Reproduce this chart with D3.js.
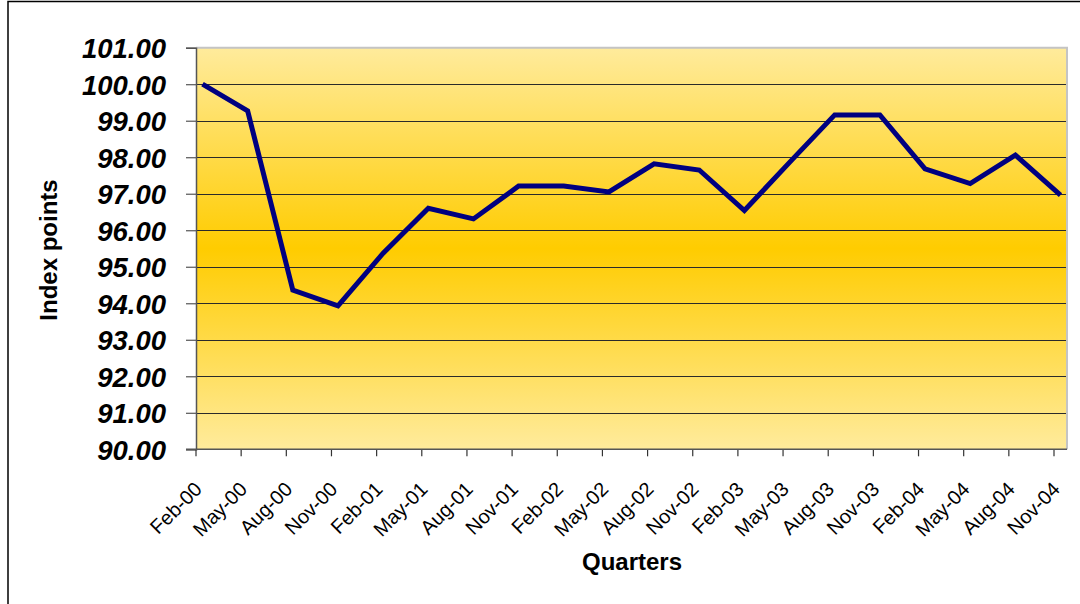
<!DOCTYPE html>
<html>
<head>
<meta charset="utf-8">
<script src="https://cdn.jsdelivr.net/npm/d3@7/dist/d3.min.js"></script>
<style>
  html, body { margin: 0; padding: 0; background: #ffffff; }
  svg { display: block; }
  text { font-family: "Liberation Sans", Arial, Helvetica, sans-serif; fill: #000; }
</style>
</head>
<body>
<svg id="chart" width="1080" height="604"></svg>
<script>
// Quarterly index series
const quarters = ["Feb-00","May-00","Aug-00","Nov-00","Feb-01","May-01","Aug-01","Nov-01",
                  "Feb-02","May-02","Aug-02","Nov-02","Feb-03","May-03","Aug-03","Nov-03",
                  "Feb-04","May-04","Aug-04","Nov-04"];
const indexValues = [100.00, 99.27, 94.36, 93.93, 95.37, 96.60, 96.31, 97.21,
                     97.21, 97.05, 97.82, 97.65, 96.54, 97.86, 99.16, 99.16,
                     97.68, 97.28, 98.06, 96.96];
const yTickValues = [90, 91, 92, 93, 94, 95, 96, 97, 98, 99, 100, 101];
const yTitle = "Index points";
const xTitle = "Quarters";

const svg = d3.select("#chart");

// plot area geometry
const plot = { left: 196, top: 47.7, right: 1067, bottom: 449.3 };
const tickShift = -7; // category ticks sit slightly left of the data points

const x = d3.scalePoint().domain(quarters).range([202.5, 1060.5]);
const y = d3.scaleLinear().domain([90, 101]).range([plot.bottom, plot.top]);

// outer frame
svg.append("rect")
  .attr("x", 8).attr("y", 1.5)
  .attr("width", 1100).attr("height", 640)
  .attr("fill", "none").attr("stroke", "#000").attr("stroke-width", 1.5);

// gold gradient background
const defs = svg.append("defs");
const grad = defs.append("linearGradient")
  .attr("id", "goldFill").attr("x1", 0).attr("y1", 0).attr("x2", 0).attr("y2", 1);
grad.append("stop").attr("offset", "0%").attr("stop-color", "#ffeb9c");
grad.append("stop").attr("offset", "50%").attr("stop-color", "#ffcc00");
grad.append("stop").attr("offset", "100%").attr("stop-color", "#ffeb9c");

svg.append("rect")
  .attr("x", plot.left).attr("y", plot.top)
  .attr("width", plot.right - plot.left).attr("height", plot.bottom - plot.top)
  .attr("fill", "url(#goldFill)");

// plot border (top and right edges)
svg.append("path")
  .attr("d", `M${plot.left},${plot.top}H${plot.right}V${plot.bottom}`)
  .attr("fill", "none").attr("stroke", "#c4c4c4").attr("stroke-width", 2);

// horizontal gridlines
svg.append("g")
  .selectAll("line")
  .data(yTickValues.filter(v => v > 90 && v < 101))
  .join("line")
  .attr("x1", plot.left).attr("x2", plot.right - 1)
  .attr("y1", d => Math.round(y(d)) + 0.5).attr("y2", d => Math.round(y(d)) + 0.5)
  .attr("stroke", "#2a2a2a").attr("stroke-width", 1);

// y axis
const yAxis = svg.append("g")
  .attr("transform", `translate(${plot.left},0)`)
  .call(d3.axisLeft(y).tickValues(yTickValues).tickSize(10).tickPadding(20)
    .tickFormat(d3.format(".2f")));
yAxis.select(".domain").attr("stroke", "#555").attr("stroke-width", 1.5);
yAxis.selectAll(".tick line").attr("stroke", "#555").attr("stroke-width", 1.2);
yAxis.selectAll(".tick text")
  .attr("x", -30)
  .attr("dy", "0.36em")
  .style("font-family", "'Liberation Sans', Arial, sans-serif")
  .style("font-size", "27.5px").style("font-weight", "bold").style("font-style", "italic")
  .attr("fill", "#000");

// x axis
const xAxis = svg.append("g")
  .attr("transform", `translate(${tickShift},${plot.bottom})`)
  .call(d3.axisBottom(x).tickSize(7).tickSizeOuter(0));
xAxis.select(".domain").remove();
svg.append("line")
  .attr("x1", plot.left - 10).attr("x2", plot.right)
  .attr("y1", plot.bottom).attr("y2", plot.bottom)
  .attr("stroke", "#555").attr("stroke-width", 1.5);
xAxis.selectAll(".tick line").attr("stroke", "#333").attr("stroke-width", 1.2);
xAxis.selectAll(".tick text")
  .attr("text-anchor", "end")
  .attr("x", 0).attr("y", 0)
  .attr("dy", "0.72em")
  .attr("transform", "translate(-3,31) rotate(-45)")
  .style("font-family", "'Liberation Sans', Arial, sans-serif")
  .style("font-size", "20px")
  .attr("fill", "#000");

// series line
const line = d3.line()
  .x((d, i) => x(quarters[i]))
  .y(d => y(d));
svg.append("path")
  .datum(indexValues)
  .attr("d", line)
  .attr("fill", "none")
  .attr("stroke", "#000080")
  .attr("stroke-width", 5)
  .attr("stroke-linejoin", "miter");

// axis titles
svg.append("text")
  .attr("transform", "translate(57,250) rotate(-90)")
  .attr("text-anchor", "middle")
  .style("font-size", "24px").style("font-weight", "bold")
  .text(yTitle);

svg.append("text")
  .attr("x", 632).attr("y", 570)
  .attr("text-anchor", "middle")
  .style("font-size", "24px").style("font-weight", "bold")
  .text(xTitle);
</script>
</body>
</html>
